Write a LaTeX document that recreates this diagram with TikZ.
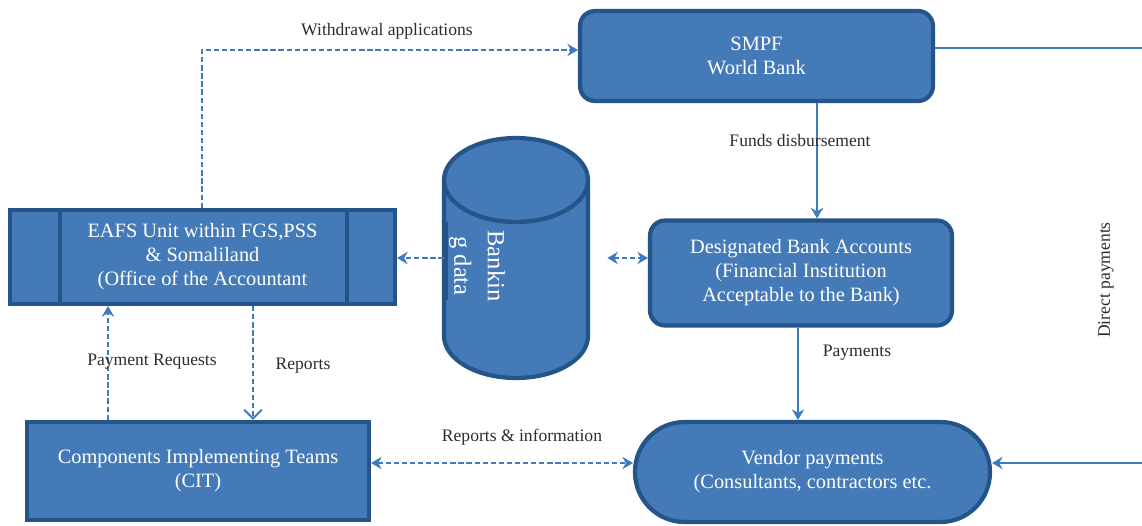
\documentclass[tikz,border=0pt]{standalone}
\usepackage{fontspec}
\setmainfont{Liberation Serif}
\usetikzlibrary{arrows.meta,calc}
\definecolor{boxfill}{RGB}{68,122,184}
\definecolor{boxdraw}{RGB}{37,84,136}
\definecolor{conn}{RGB}{61,122,192}
\definecolor{lbl}{RGB}{45,45,45}
\begin{document}
\begin{tikzpicture}[x=0.02cm,y=-0.02cm,
  box/.style={draw=boxdraw,fill=boxfill,line width=2.4pt,text=white,align=center,
    font=\fontsize{11.6}{13.7}\selectfont,inner sep=0pt},
  lab/.style={text=lbl,font=\fontsize{10}{12}\selectfont,inner sep=1pt},
  conn/.style={draw=conn,line width=1.1pt},
  dconn/.style={conn,dash pattern=on 3pt off 1.6pt},
  tip/.style={-{Stealth[length=6pt,width=7pt,inset=2pt]}},
  btip/.style={{Stealth[length=6pt,width=7pt,inset=2pt]}-{Stealth[length=6pt,width=7pt,inset=2pt]}},
  vtip/.style={-{Straight Barb[length=5pt,width=10pt]}}]
\clip (0,0) rectangle (1142,525);
\fill[white] (0,0) rectangle (1142,525);

% nodes
\node[box,rounded corners=0.3cm,minimum width=7.06cm,minimum height=1.8cm] (smpf) at (756.5,56) {SMPF\\World Bank};
\node[box,rounded corners=0.3cm,minimum width=6.04cm,minimum height=2.1cm] (desig) at (801,273)
  {Designated Bank Accounts\\(Financial Institution\\Acceptable to the Bank)};
\node[box,minimum width=7.7cm,minimum height=1.88cm] (eafs) at (202.5,257)
  {EAFS Unit within FGS,PSS\\\&\ Somaliland\\(Office of the Accountant};
\draw[boxdraw,line width=2.4pt] (60,212) -- (60,302) (347,212) -- (347,302);
\node[box,minimum width=6.84cm,minimum height=1.96cm] (cit) at (198,471)
  {Components Implementing Teams\\(CIT)};
\node[box,rounded corners=0.99cm,minimum width=7.1cm,minimum height=2cm] (vendor) at (812.5,472)
  {Vendor payments\\(Consultants, contractors etc.};

% cylinder
\filldraw[fill=boxfill,draw=boxdraw,line width=2.4pt]
  (588,180) -- (588,336) arc[start angle=0,end angle=-180,x radius=1.44cm,y radius=0.84cm]
  -- (444,180) arc[start angle=180,end angle=0,x radius=1.44cm,y radius=0.84cm] -- cycle;
\draw[boxdraw,line width=2.4pt] (444,180) arc[start angle=180,end angle=360,x radius=1.44cm,y radius=0.84cm];
\draw[boxdraw,line width=3.6pt] (445,222) -- (445,300);
\node[text=white,align=center,rotate=-90,font=\fontsize{14}{19}\selectfont,inner sep=0pt] (cyltext) at (477,266) {Bankin\\g data};
\node[minimum width=2.88cm,minimum height=1cm,inner sep=0pt] (cyl) at (516,258) {};

% connectors
\coordinate (wy) at (0,50);
\draw[dconn,tip] (eafs.north -| 202,0) |- (smpf.west |- wy);
\node[lab] (lwa) at (387,31) {Withdrawal applications};

\coordinate (fx) at (817,0);
\draw[conn,tip] (smpf.south -| fx) -- (desig.north -| fx);
\node[lab] (lfd) at (800,140) {Funds disbursement};

\draw[dconn,tip] (cyl.west) -- (cyl.west -| eafs.east);
\draw[dconn,btip] ([xshift=0.38cm]cyl.east) -- (cyl.east -| desig.west);

\coordinate (px) at (108,0);
\coordinate (rx) at (253,0);
\draw[dconn,tip] (cit.north -| px) -- (eafs.south -| px);
\draw[dconn,vtip] (eafs.south -| rx) -- (cit.north -| rx);
\node[lab] (lpr) at (152,362) {Payment Requests};
\node[lab] (lrp) at (303,366) {Reports};

\coordinate (ry) at (0,463);
\draw[dconn,btip] (cit.east |- ry) -- (vendor.west |- ry);
\node[lab] (lri) at (522,437) {Reports \& information};

\draw[conn,tip] (desig.south -| 798,0) -- (vendor.north -| 798,0);
\node[lab] (lpy) at (857,353) {Payments};

\coordinate (rt) at (1160,48);
\coordinate (rb) at (1160,463);
\draw[conn,tip] (smpf.east |- rt) -- (rt) -- (rb) -- (rb -| vendor.east);
\node[lab,rotate=90] (ldp) at (1106,280) {Direct payments};
\end{tikzpicture}
\end{document}
